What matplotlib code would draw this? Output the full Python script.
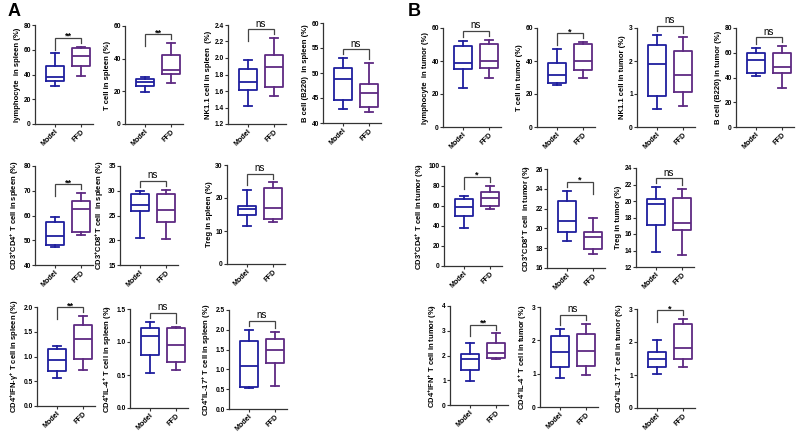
import matplotlib
matplotlib.use("Agg")
import matplotlib.pyplot as plt

plt.rcParams['font.family'] = ['Liberation Sans', 'DejaVu Sans']
plt.rcParams['mathtext.fontset'] = 'custom'
plt.rcParams['mathtext.rm'] = 'Liberation Sans:bold'
plt.rcParams['mathtext.bf'] = 'Liberation Sans:bold'
plt.rcParams['mathtext.default'] = 'bf'

groups = ["Model", "FFD"]

ylabels = [
    "lymphocyte  in spleen (%)",
    "T cell in spleen (%)",
    "NK1.1 cell in spleen  (%)",
    "B cell (B220)  in spleen (%)",
    r"CD3$^{+}$CD4$^{+}$ T cell in spleen (%)",
    r"CD3$^{+}$CD8$^{+}$T cell  in spleen (%)",
    "Treg in spleen (%)",
    r"CD4$^{+}$IFN-γ$^{+}$ T cell in spleen (%)",
    r"CD4$^{+}$IL-4$^{+}$ T cell in spleen (%)",
    r"CD4$^{+}$IL-17$^{+}$ T cell in spleen (%)",
    "lymphocyte  in tumor (%)",
    "T cell in tumor (%)",
    "NK1.1 cell in tumor (%)",
    "B cell (B220) in tumor (%)",
    r"CD3$^{+}$CD4$^{+}$ T cell in tumor (%)",
    r"CD3$^{+}$CD8$^{+}$T cell  in tumor (%)",
    "Treg in tumor (%)",
    r"CD4$^{+}$IFN$^{+}$ T cell in tumor (%)",
    r"CD4$^{+}$IL-4$^{+}$ T cell in tumor (%)",
    r"CD4$^{+}$IL-17$^{+}$ T cell in tumor (%)",
]

yticks = [
    [0, 20, 40, 60, 80],
    [0, 20, 40, 60],
    [1.2, 1.4, 1.6, 1.8, 2.0, 2.2, 2.4],
    [40, 45, 50, 55, 60],
    [40, 50, 60, 70, 80],
    [15, 20, 25, 30, 35],
    [0, 10, 20, 30],
    [0.0, 0.5, 1.0, 1.5, 2.0],
    [0.0, 0.5, 1.0, 1.5],
    [0.0, 0.5, 1.0, 1.5, 2.0, 2.5],
    [0, 20, 40, 60],
    [0, 20, 40, 60],
    [0, 1, 2, 3],
    [0, 20, 40, 60, 80],
    [0, 20, 40, 60, 80, 100],
    [16, 18, 20, 22, 24, 26],
    [12, 14, 16, 18, 20, 22, 24],
    [0, 1, 2, 3, 4],
    [0, 1, 2, 3],
    [0, 1, 2, 3],
]
ytick_decimals = [0, 0, 1, 0, 0, 0, 0, 1, 1, 1, 0, 0, 0, 0, 0, 0, 0, 0, 0, 0]

significance = ["**", "**", "ns", "ns", "**", "ns", "ns", "**", "ns", "ns",
                "ns", "*", "ns", "ns", "*", "*", "ns", "**", "ns", "*"]

# Model group box statistics
model_whislo = [31, 19.7, 1.42, 42.75, 47.1, 20.5, 11.4, 0.56, 0.53, 0.52,
                23.4, 25.4, 0.55, 41.0, 37.7, 18.7, 13.8, 0.98, 0.86, 1.04]
model_q1 = [34.8, 23.2, 1.61, 44.7, 48.1, 25.9, 14.9, 0.70, 0.80, 0.55,
            35.2, 26.4, 0.95, 43.7, 50.3, 19.6, 17.1, 1.41, 1.19, 1.23]
model_med = [38.3, 25.8, 1.71, 48.8, 51.8, 27.2, 16.6, 0.92, 1.09, 1.09,
             38.6, 31.5, 1.91, 53.9, 58.7, 20.7, 19.6, 1.84, 1.66, 1.47]
model_q3 = [47.0, 27.8, 1.87, 51.1, 57.3, 29.4, 17.7, 1.15, 1.21, 1.72,
            48.8, 39.0, 2.47, 60.1, 67.0, 22.8, 20.24, 2.08, 2.13, 1.70]
model_whishi = [57.0, 28.5, 1.98, 52.95, 59.3, 29.9, 22.4, 1.22, 1.31, 2.0,
                52.2, 47.4, 2.80, 64.1, 70.3, 23.8, 21.66, 2.52, 2.35, 2.06]

# FFD group box statistics
ffd_whislo = [38.8, 25.0, 1.54, 42.2, 52.2, 20.2, 12.8, 0.73, 0.58, 0.59,
              29.9, 29.5, 0.63, 31.8, 56.7, 17.4, 13.5, 1.84, 0.96, 1.23]
ffd_q1 = [47.2, 30.5, 1.65, 43.2, 53.2, 23.7, 13.5, 0.95, 0.70, 1.15,
          36.0, 34.6, 1.05, 43.7, 60.3, 17.95, 16.5, 1.91, 1.23, 1.50]
ffd_med = [55.3, 33.3, 1.89, 46.0, 62.6, 26.1, 17.0, 1.36, 0.95, 1.49,
           40.0, 40.0, 1.59, 48.5, 67.7, 19.1, 17.33, 2.11, 1.68, 1.82]
ffd_q3 = [61.2, 42.1, 2.04, 47.9, 65.9, 29.4, 23.0, 1.63, 1.21, 1.76,
          50.2, 50.4, 2.29, 59.8, 73.7, 19.6, 20.36, 2.52, 2.20, 2.56]
ffd_whishi = [62.5, 49.6, 2.24, 52.0, 69.0, 30.2, 24.7, 1.81, 1.23, 1.95,
              52.8, 51.4, 2.72, 65.5, 80.0, 21.05, 21.4, 2.89, 2.49, 2.69]

# ---- layout (pixels: y-axis x position, top tick y, bottom tick y) ----
W, H = 800, 433
layout = [
    (35, 25, 124), (125, 26, 124), (228, 25, 124), (323, 23, 123),
    (35, 166, 265), (120, 166, 265), (227, 165, 264),
    (37, 307, 406), (130, 309, 408), (229, 310, 409),
    (443, 28, 127), (537, 28, 127), (637, 28, 127), (736, 28, 127),
    (444, 166, 266), (547, 169, 268), (636, 168, 267),
    (450, 306, 405), (540, 307, 407), (637, 309, 408),
]
AX_W = 58

colors = ["#1f1f9e", "#5e2a82"]

fig = plt.figure(figsize=(W / 100, H / 100), dpi=100)

for i in range(20):
    xl, yt, yb = layout[i]
    ax = fig.add_axes([xl / W, 1 - yb / H, AX_W / W, (yb - yt) / H])
    stats = [
        dict(whislo=model_whislo[i], q1=model_q1[i], med=model_med[i],
             q3=model_q3[i], whishi=model_whishi[i], fliers=[]),
        dict(whislo=ffd_whislo[i], q1=ffd_q1[i], med=ffd_med[i],
             q3=ffd_q3[i], whishi=ffd_whishi[i], fliers=[]),
    ]
    for j in range(2):
        c = colors[j]
        ax.bxp([stats[j]], positions=[j + 1], widths=0.7, capwidths=0.32,
               showfliers=False,
               boxprops=dict(color=c, linewidth=1.3),
               medianprops=dict(color=c, linewidth=1.3),
               whiskerprops=dict(color=c, linewidth=1.3),
               capprops=dict(color=c, linewidth=1.3))
    ticks = yticks[i]
    lo, hi = ticks[0], ticks[-1]
    rng = hi - lo
    ax.set_ylim(lo, hi)
    ax.set_xlim(0.25, 2.45)
    ax.set_yticks(ticks)
    fmt = "{:.%df}" % ytick_decimals[i]
    ax.set_yticklabels([fmt.format(t) for t in ticks], fontsize=4.8, fontweight='bold')
    ax.set_xticks([1, 2])
    ax.set_xticklabels(groups, rotation=45, ha='right', rotation_mode='anchor',
                       fontsize=5.2, fontweight='bold')
    ax.set_ylabel(ylabels[i], fontsize=5.5, fontweight='bold', labelpad=2)
    for s in ['top', 'right']:
        ax.spines[s].set_visible(False)
    for s in ['left', 'bottom']:
        ax.spines[s].set_linewidth(0.9)
        ax.spines[s].set_color('#333333')
    ax.tick_params(axis='both', length=2, width=0.8, pad=1, color='#333333')

    # significance bracket
    mh = max(model_whishi[i], ffd_whishi[i])
    by = mh + 0.09 * rng
    lb = max(model_whishi[i] + 0.04 * rng, by - 0.12 * rng)
    rb = max(ffd_whishi[i] + 0.04 * rng, by - 0.12 * rng)
    ax.plot([1, 1, 2, 2], [lb, by, by, rb], color='#444444', lw=0.9,
            clip_on=False, solid_joinstyle='miter')
    sig = significance[i]
    if sig == "ns":
        ax.text(1.5, by + 0.005 * rng, sig, ha='center', va='bottom',
                fontsize=7, clip_on=False)
    else:
        ax.text(1.5, by - 0.03 * rng, sig, ha='center', va='bottom',
                fontsize=6.5, fontweight='bold', clip_on=False)

fig.text(8 / W, 1 - 12 / H, "A", fontsize=13, fontweight='bold', va='center', ha='left')
fig.text(408 / W, 1 - 12 / H, "B", fontsize=13, fontweight='bold', va='center', ha='left')

fig.savefig("out.png", dpi=100)
